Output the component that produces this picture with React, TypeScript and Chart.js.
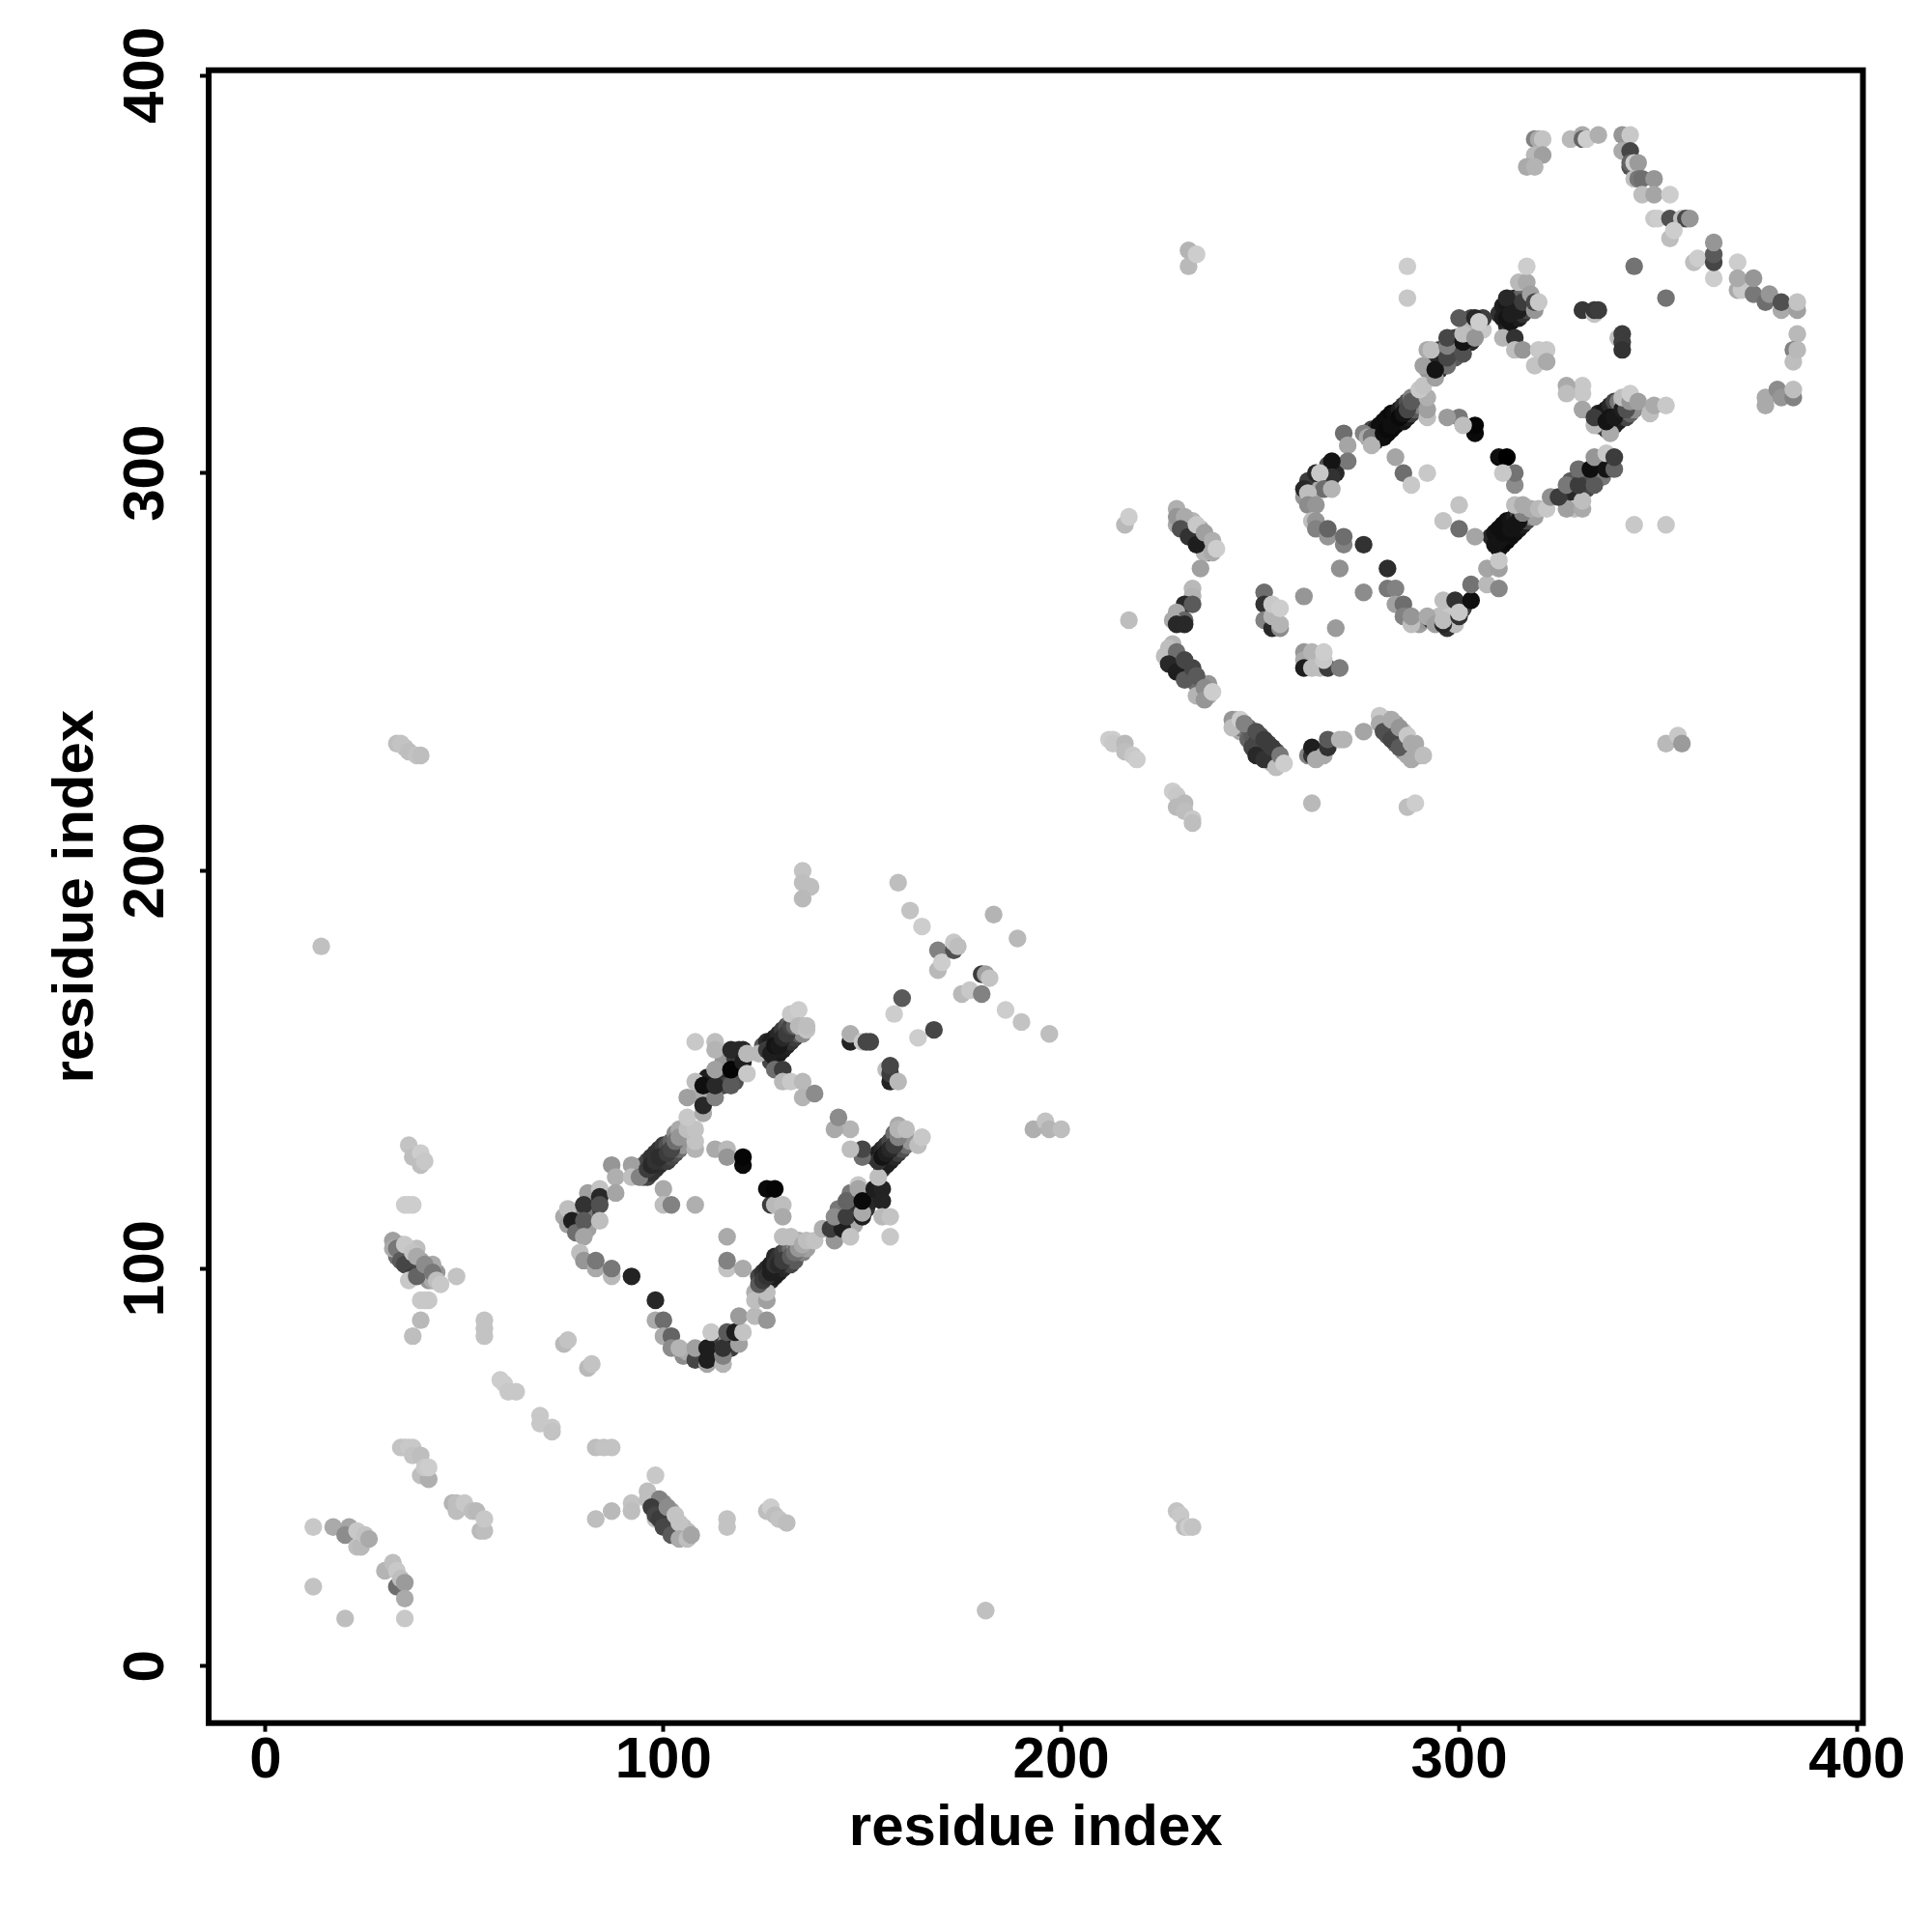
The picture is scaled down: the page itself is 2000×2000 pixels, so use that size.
import React, { useEffect, useRef } from "react";
import { Chart, registerables } from "chart.js";

Chart.register(...registerables);

type Contact = [number, number, number];

const axisTicks = [0, 100, 200, 300, 400];
const axisTitle = "residue index";

// each contact: residue i, residue j, grey level
const lowerStrandContacts: Contact[] = [
  [125,95,70],[126,96,60],[127,97,40],[128,98,30],[129,99,30],[130,100,40],[131,101,50],[132,101,70],[133,102,90],[135,104,130],[136,105,160],
  [124,98,70],[125,99,50],[126,100,40],[127,101,30],[128,103,40],[129,103,50],[130,104,60],[131,105,80],[132,105,110],[133,106,140],[134,107,170],
  [95,123,90],[96,123,70],[97,124,50],[98,125,50],[99,126,45],[100,127,50],[101,127,60],[102,128,70],[103,129,80],[104,130,110],[105,131,150],
  [95,126,100],[96,127,70],[97,128,50],[98,129,50],[99,130,50],[100,131,60],[101,131,80],[102,132,100],[103,134,140],[104,135,170],
  [155,125,60],[156,126,30],[157,127,30],[158,128,40],[159,129,60],[160,130,80],[161,131,110],[162,132,150],
  [153,128,70],[154,129,30],[155,130,40],[156,131,50],[157,132,70],[158,134,110],[159,136,170],
  [127,152,70],[128,153,30],[129,154,25],[130,155,30],[131,156,35],[132,157,50],[133,158,60],[134,159,90],[135,159,140],
  [125,156,90],[126,157,40],[127,157,30],[128,158,30],[129,159,40],[130,160,60],[131,161,80],[132,162,110],[133,163,150],
  [111,143,60],[112,145,50],[114,147,40],[115,148,30],[116,149,20],[118,150,40],[112,148,180],[115,146,70],[114,150,50],[118,147,80],[109,144,170],[111,148,30],[115,152,150],[118,153,60],[119,155,50],
  [78,114,40],[79,113,60],[78,111,70],[76,113,120],[82,115,60],[82,118,150],[80,114,120],[81,110,160],[75,113,170],
  [105,78,140],[106,79,170],[109,78,60],[110,78,30],[112,78,150],[113,79,40],[113,81,60],[114,79,170],[117,80,60],[116,82,130],[117,82,30],
  [148,112,40],[147,115,60],[148,115,40],[144,111,60],[146,110,30],[148,111,170],[149,116,50],[151,115,50],[152,118,30],[152,117,40],[144,115,120],[147,119,120],
  [33,103,110],[35,103,90],[36,102,90],[37,101,90],[38,100,80],[39,99,90],[40,99,110],[41,97,150],[34,106,170],[36,105,180],[38,105,190],[39,102,160],[41,100,140],[42,97,170],[43,99,150],[42,101,170],
  [97,42,160],[98,42,140],[98,40,100],[99,39,80],[100,38,90],[101,37,100],[102,36,90],[103,35,110],[104,34,130],[105,33,170],[100,41,140],[102,39,160],[103,37,180],[105,35,190],[106,34,190],
];

const upperStrandContacts: Contact[] = [
  [230,289,120],[231,286,70],[232,287,140],[233,285,80],[234,284,110],[235,283,60],[236,282,70],[237,280,100],[236,280,180],[238,282,170],[233,288,180],[235,286,170],[229,287,170],[230,288,170],
  [228,253,60],[229,253,50],[230,252,60],[230,250,40],[231,250,50],[232,249,50],[232,251,80],[233,248,90],[234,247,110],[235,247,110],[235,244,160],[237,244,170],[237,247,150],[228,255,150],[229,252,50],[226,254,190],[228,257,180],
  [244,236,160],[245,235,170],[244,238,190],[245,236,120],[247,236,100],[247,233,100],[248,234,90],[249,232,60],[250,231,50],[250,230,40],[250,234,80],[252,230,50],[252,232,70],[252,228,60],[253,229,50],[254,228,100],[254,230,90],[253,227,170],[255,227,170],
  [281,237,140],[282,236,130],[282,234,90],[282,238,170],[284,234,80],[284,237,160],[284,232,100],[285,234,160],[286,232,110],[286,230,150],[287,231,150],[287,229,170],[286,235,190],[289,232,170],[290,229,175],
  [310,281,20],[311,282,15],[312,283,10],[313,284,15],[314,285,15],[315,286,20],[316,287,30],[317,288,70],[318,289,120],[319,289,160],
  [308,284,40],[309,285,20],[310,286,15],[311,287,15],[312,288,15],[313,288,20],[314,289,30],[315,290,70],[316,291,120],
  [279,308,70],[280,309,15],[281,309,15],[282,310,10],[283,311,10],[284,312,10],[285,313,10],[286,313,20],[287,314,30],[288,315,60],[289,316,90],[290,317,130],
  [278,311,70],[279,311,40],[280,312,15],[281,313,15],[282,314,15],[283,315,10],[284,315,15],[285,316,30],[286,317,50],[287,318,80],[288,319,130],
  [335,312,70],[336,312,20],[337,311,60],[338,312,20],[339,312,25],[340,313,30],[341,314,40],[342,314,70],[343,315,100],[344,316,140],
  [335,315,40],[336,315,20],[337,316,25],[338,317,40],[339,318,70],[340,318,120],[341,318,160],
  [310,340,50],[311,342,30],[312,342,25],[313,343,20],[314,344,40],[315,344,70],[316,345,100],
  [312,337,40],[313,338,20],[314,339,20],[315,339,30],[316,340,50],[317,341,70],[318,342,130],
  [295,331,60],[295,329,50],[296,327,170],[299,332,40],[299,334,60],[299,329,90],[303,333,40],[302,337,70],[302,335,150],[295,326,40],[292,326,150],[294,329,70],[293,328,40],[303,339,70],[306,336,200],[303,337,180],[306,339,60],
  [262,298,60],[263,296,60],[263,293,120],[261,294,150],[266,298,90],[265,296,170],[267,302,80],[269,300,40],
  [290,262,160],[291,263,150],[293,263,60],[295,264,190],[297,261,50],[298,263,40],[298,265,200],[299,262,190],[301,266,60],
  [327,294,100],[328,293,60],[329,295,40],[328,298,90],[332,296,70],[332,299,80],[335,299,30],[335,302,30],[336,303,100],[336,299,120],[329,291,190],
];

const farContacts: Contact[] = [
  [14,181,192],[181,14,192],[12,35,200],[12,20,195],[20,12,190],[35,12,200],
  [33,232,190],[34,232,195],[35,231,195],[36,230,190],[38,229,195],[39,229,190],
  [229,39,195],[230,38,200],[231,35,190],[232,35,205],[233,35,195],
  [232,356,180],[232,352,185],[234,355,205],
  [352,232,185],[355,234,200],[356,232,155],
  [344,287,200],[352,287,200],[287,352,205],[287,344,200],
  [36,131,195],[37,128,190],[39,129,205],[39,126,190],[40,127,200],
  [35,116,205],[36,116,205],[37,116,205],
  [39,92,200],[40,92,200],[41,92,200],[39,87,185],[37,83,190],[48,98,195],
  [55,87,195],[55,85,195],[55,83,195],
  [75,81,185],[76,82,195],[81,75,185],[82,76,195],
  [59,72,205],[60,71,205],[61,69,200],[63,69,200],
  [69,63,200],[69,61,200],[72,60,200],[72,59,195],
];

const lowerLeftClusters: Contact[] = [
  [32,107,160],[32,105,170],[33,105,120],[34,104,120],[34,102,90],[35,101,70],[37,99,70],[37,98,60],[36,97,200],
  [35,106,200],[37,104,195],[38,103,170],[38,98,100],[40,101,140],[42,99,120],[43,97,190],[44,96,200],
  [34,55,195],[35,55,195],[36,55,200],[37,55,200],[37,53,195],[39,53,190],[39,48,190],[41,47,175],[40,50,200],[41,50,205],
  [47,41,180],[48,41,190],[48,39,190],[50,41,200],[52,39,190],[53,39,185],[54,34,185],[55,34,190],[55,37,200],
  [17,35,170],[21,35,165],[20,33,140],[23,30,190],[24,30,185],[23,34,200],[25,33,195],[26,32,170],
  [30,24,180],[32,26,190],[33,20,110],[33,24,200],[34,22,190],[35,21,155],[35,17,170],
  [83,55,190],[85,55,195],[87,55,195],[98,48,200],[83,37,190],[87,39,185],[92,41,195],[92,39,190],
  [96,44,190],[96,42,190],[99,42,130],[97,40,60],[98,37,195],[98,38,70],[99,37,60],[101,40,140],[100,35,70],[102,33,90],
  [103,38,195],[104,36,195],[104,32,170],[106,32,190],[107,33,165],
  [116,37,195],[116,35,195],[126,39,190],[127,40,205],[128,38,190],[129,37,195],[131,36,190],
];

const lowerBoxLeft: Contact[] = [
  [76,115,190],[76,111,160],[81,119,160],[77,112,30],[80,116,50],[78,109,110],[80,112,90],[84,120,195],[84,118,40],[84,116,80],[84,112,190],
  [80,108,165],[79,104,190],[80,102,150],[83,100,170],[83,102,120],[87,98,185],[87,100,120],[92,98,35],[98,92,40],
  [98,87,170],[100,87,110],[100,83,170],[102,83,100],[102,80,140],[104,80,180],[108,77,70],[108,80,160],
  [111,76,165],[111,77,30],[111,80,30],[115,76,180],[115,78,130],[115,80,50],[112,84,200],[119,81,160],[116,84,90],[118,84,30],[120,84,195],
  [119,88,155],[123,88,185],[126,87,150],[123,94,175],[123,92,190],[126,92,160],[126,94,190],
  [124,96,90],[125,97,60],[126,98,50],[127,99,30],[128,101,50],[129,101,40],[130,102,60],[132,103,90],[133,104,110],[134,105,150],
  [130,108,190],[132,108,190],[135,106,170],[136,107,190],[138,107,195],
  [87,126,150],[88,123,175],[88,119,165],[92,126,160],[92,123,190],[94,123,130],
  [96,125,60],[97,126,40],[98,127,50],[99,128,45],[101,129,60],[102,130,70],[103,132,110],[104,133,150],
  [108,130,180],[108,132,195],[106,135,190],[108,135,195],[106,138,200],
];

const lowerBoxRight: Contact[] = [
  [140,110,175],[143,107,150],[142,110,60],[145,110,30],[147,108,195],[143,113,140],[146,113,60],[146,117,100],[150,113,30],[150,114,170],
  [149,121,200],[149,120,165],[150,117,10],[153,120,30],[155,120,35],[155,117,35],[155,113,185],[157,113,195],[157,108,200],[154,123,190],
  [154,127,50],[155,128,20],[156,129,30],[157,130,40],[158,131,60],[159,133,130],[159,135,180],[161,135,190],[164,131,190],[165,133,200],
  [150,128,110],[150,130,70],[147,130,190],[147,135,180],[143,135,170],[144,138,140],
  [127,116,60],[126,120,10],[128,116,185],[128,120,5],[130,116,190],[130,113,170],
  [113,130,170],[116,130,185],[116,128,150],[120,126,10],[120,128,5],
  [100,120,170],[100,116,190],[102,116,130],[108,116,175],[116,108,170],[116,100,195],[116,102,130],[120,100,170],
];

const lowerBoxTop: Contact[] = [
  [110,139,170],[106,143,160],[110,141,40],[113,143,130],[108,147,190],[110,146,15],[113,146,40],[117,146,90],[113,150,160],[117,150,5],
  [108,157,200],[113,157,190],[113,155,180],[117,155,40],[120,152,30],[120,155,40],[121,154,185],[121,149,200],[124,154,185],
  [126,155,60],[127,154,30],[128,156,20],[129,156,25],[130,158,40],[131,159,60],[132,161,70],[133,161,100],
  [132,164,200],[134,165,205],[134,161,185],[136,160,195],[136,161,190],
  [128,150,110],[130,150,60],[130,147,185],[132,147,200],[135,147,185],[135,143,180],[138,144,140],
];

const sparseMiddle: Contact[] = [
  [135,200,195],[135,197,190],[137,196,190],[135,193,185],[159,197,190],[162,190,195],[165,186,205],
  [183,189,180],[189,183,185],[169,180,130],[169,175,185],[170,177,205],[173,180,80],[173,182,200],[174,181,190],
  [175,169,185],[177,170,200],[180,169,130],[180,174,60],[181,174,160],[182,173,195],
  [186,165,205],[190,162,195],[197,159,190],
  [158,164,205],[160,168,90],[164,158,205],[168,160,70],
  [147,157,35],[147,159,175],[150,157,200],[151,157,70],[152,157,70],
  [156,150,190],[157,147,35],[157,149,60],[157,151,70],[159,147,185],
  [193,135,175],[196,137,195],[197,135,180],[200,135,190],
];

const centralStrips: Contact[] = [
  [216,287,185],[217,289,205],[217,263,190],
  [229,291,175],[229,289,150],[231,289,170],[230,286,80],[232,284,50],[234,282,30],[234,287,200],[236,285,160],[238,283,175],[238,280,170],[239,281,205],
  [235,276,160],[233,271,185],[233,269,180],[231,267,40],[233,267,90],[229,265,170],[231,263,100],[228,263,170],[229,262,40],[231,262,40],
  [251,270,110],[251,267,50],[251,263,130],[253,261,40],[253,264,180],[253,267,200],[255,261,140],[255,262,180],[255,266,205],
  [261,269,150],[269,261,155],
  [261,255,150],[261,253,170],[261,251,30],[263,255,180],[263,251,190],[265,251,190],[267,251,60],[266,253,200],[266,255,205],[270,251,125],
  [227,256,190],[229,255,110],[227,252,40],[229,250,30],[231,253,70],[231,248,90],[233,251,70],[234,249,90],[234,244,180],[236,246,140],[236,243,150],[238,245,205],
  [243,238,150],[243,236,190],[245,238,205],[246,237,130],[248,231,70],[249,235,80],[249,229,40],[251,233,60],[251,228,50],[253,231,60],[254,226,190],[255,229,120],[256,227,205],
  [262,229,130],[263,229,50],[263,231,30],[264,228,170],[266,229,170],[267,231,50],[267,233,90],[270,233,180],[271,233,180],[276,235,165],
  [280,239,200],[280,237,170],[281,235,80],[283,233,70],[283,238,170],[285,231,90],[285,236,150],[287,234,200],[288,228,170],[288,232,170],[289,229,170],[291,229,190],
  [263,217,185],[287,216,190],[289,217,205],
  [228,220,205],[229,219,200],[229,216,185],[231,217,185],[231,215,190],[233,213,200],[233,212,190],
  [212,233,205],[213,233,205],[213,232,200],[216,232,185],[216,230,190],[218,229,200],[219,228,205],
];

const upperBoxLeft: Contact[] = [
  [276,310,130],[277,309,170],[278,309,120],[278,307,180],[281,310,15],[282,311,10],[283,312,15],[285,314,10],[286,315,20],[287,316,70],[288,318,90],
  [292,314,190],[292,316,160],[292,319,175],[290,321,200],[291,322,195],
  [271,310,110],[272,307,165],[272,303,120],[268,303,20],[268,299,50],[264,300,40],[265,300,200],[266,296,110],[268,296,180],[261,296,40],[262,295,190],
  [262,292,140],[264,292,150],[263,288,190],[264,288,150],[264,286,130],[267,284,150],[267,286,100],[271,282,130],[271,284,110],
  [276,282,50],[282,276,45],[270,276,145],[276,270,140],[282,271,120],[284,271,130],[284,267,160],[286,267,110],[286,264,130],[288,262,190],[288,264,150],
  [292,264,170],[294,262,160],[296,262,40],[296,263,190],[296,268,190],[299,268,50],[300,264,50],[300,265,200],[303,268,15],[303,272,115],[307,272,185],[310,271,135],
  [307,276,165],[310,276,160],[310,278,200],
];

const upperBoxStrands: Contact[] = [
  [309,282,20],[310,283,20],[311,285,15],[313,286,20],[314,287,20],[315,288,20],[316,290,130],[314,292,190],[316,292,170],[318,291,170],[320,291,185],[322,291,200],
  [323,294,145],[327,291,160],[325,294,60],[327,297,120],[331,291,170],[331,293,190],[330,297,60],[330,301,110],[334,297,90],[333,301,15],[334,304,150],
  [337,301,20],[337,305,200],[339,301,100],[339,304,60],
  [314,297,140],[314,300,115],[310,304,15],[312,304,0],[311,300,200],
  [304,310,10],[304,312,5],[300,314,120],[301,312,190],[297,314,155],
  [292,300,200],[286,300,110],[284,304,165],[288,297,200],
  [300,292,195],[300,286,110],[296,288,195],[304,284,165],
  [331,322,200],[331,320,200],[327,322,170],[327,320,190],[331,316,165],[334,312,185],[334,314,60],[338,310,170],
  [337,313,20],[338,314,20],[339,314,25],[341,316,30],[342,316,80],[341,319,190],[343,318,150],[343,320,205],[345,318,160],[348,315,190],[349,317,170],[352,317,200],
];

const upperBoxTop: Contact[] = [
  [297,327,110],[291,327,160],[294,324,160],[292,331,170],[293,331,190],[294,326,20],[297,329,70],[297,332,130],[297,334,70],[301,330,80],[301,333,20],[301,335,190],
  [300,339,90],[304,334,150],[304,339,40],[305,338,205],
  [311,334,180],[311,339,30],[312,339,20],[312,344,40],[313,340,30],[315,341,30],[316,343,60],[315,348,185],[317,348,170],[317,352,205],[318,345,160],[319,341,150],[319,343,70],[320,343,200],
  [314,334,50],[314,331,190],[316,331,150],[320,331,200],[322,331,200],[319,327,195],[322,328,170],
  [331,341,55],[334,340,195],[334,341,55],[335,341,60],[340,334,190],[341,335,60],[341,333,60],[341,331,50],
  [344,352,115],[352,344,115],
];

const topRightArc: Contact[] = [
  [319,384,130],[320,384,170],[321,384,195],[319,380,185],[321,380,160],[317,377,170],[319,377,180],
  [328,384,185],[331,385,170],[331,384,100],[332,384,205],[335,385,175],
  [341,385,150],[343,385,200],[341,381,170],[343,381,70],[343,377,80],[343,378,100],[344,378,205],[345,378,155],
  [344,374,190],[345,374,120],[346,374,110],[349,374,150],[346,370,190],[349,370,165],[353,370,205],
  [349,364,200],[350,364,205],[353,364,80],[356,364,190],[357,364,70],[358,364,150],[353,359,190],[354,361,205],
  [359,353,190],[360,354,205],[364,349,205],[364,353,70],[364,355,90],[364,358,150],
  [370,353,205],[370,346,170],[371,346,200],[370,349,170],[374,345,120],[374,349,150],[377,343,110],[378,345,150],
  [381,341,170],[381,343,80],[385,341,160],[385,343,195],
  [385,335,185],[384,331,130],[384,328,190],[385,331,185],
  [377,317,170],[377,319,170],[380,321,140],[381,319,150],[384,319,130],[384,321,190],
];

const allContacts: Contact[] = [
  ...lowerStrandContacts,
  ...upperStrandContacts,
  ...farContacts,
  ...lowerLeftClusters,
  ...lowerBoxLeft,
  ...lowerBoxRight,
  ...lowerBoxTop,
  ...sparseMiddle,
  ...centralStrips,
  ...upperBoxLeft,
  ...upperBoxStrands,
  ...upperBoxTop,
  ...topRightArc,
];

const FONT = { family: "'Liberation Sans', Arial, sans-serif", weight: "bold" as const, size: 60 };

const framePlugin = {
  id: "frame",
  afterDraw(chart: Chart) {
    const { ctx, chartArea } = chart;
    ctx.save();
    ctx.strokeStyle = "#000";
    ctx.lineWidth = 6;
    ctx.lineJoin = "miter";
    ctx.strokeRect(chartArea.left, chartArea.top, chartArea.right - chartArea.left, chartArea.bottom - chartArea.top);
    ctx.restore();
  },
};

export default function App() {
  const ref = useRef<HTMLCanvasElement>(null);
  useEffect(() => {
    if (!ref.current) return;
    document.body.style.margin = "0";
    const chart = new Chart(ref.current, {
      type: "scatter",
      data: {
        datasets: [
          {
            data: allContacts.map(([x, y]) => ({ x, y })),
            pointBackgroundColor: allContacts.map(([, , g]) => `rgb(${g},${g},${g})`),
            pointBorderWidth: 0,
            pointRadius: 9.2,
          },
        ],
      },
      options: {
        animation: false,
        responsive: false,
        layout: { padding: { top: 72.7, right: 71.5, left: 0, bottom: 0 } },
        plugins: { legend: { display: false }, tooltip: { enabled: false } },
        scales: {
          x: {
            type: "linear",
            min: -14.3,
            max: 401.5,
            afterBuildTicks: (s: any) => { s.ticks = axisTicks.map((value) => ({ value })); },
            afterFit: (s: any) => { s.height = 216.3; },
            border: { display: false },
            grid: { drawOnChartArea: false, drawTicks: true, tickLength: 9, tickWidth: 4, tickColor: "#000" },
            ticks: { color: "#000", font: FONT, padding: -5, maxRotation: 0, minRotation: 0, autoSkip: false },
            title: { display: true, text: axisTitle, color: "#000", font: FONT, padding: { top: 0, bottom: 71 } },
          },
          y: {
            type: "linear",
            min: -14.3,
            max: 401.3,
            afterBuildTicks: (s: any) => { s.ticks = axisTicks.map((value) => ({ value })); },
            afterFit: (s: any) => { s.width = 216; },
            border: { display: false },
            grid: { drawOnChartArea: false, drawTicks: true, tickLength: 9, tickWidth: 4, tickColor: "#000" },
            ticks: { color: "#000", font: FONT, padding: 4, minRotation: 90, maxRotation: 90, crossAlign: "center", autoSkip: false },
            title: { display: true, text: axisTitle, color: "#000", font: FONT, padding: { top: 43, bottom: 0 } },
          },
        },
      },
      plugins: [framePlugin],
    } as any);
    return () => chart.destroy();
  }, []);
  return <canvas ref={ref} width={2000} height={2000} style={{ display: "block" }} />;
}
